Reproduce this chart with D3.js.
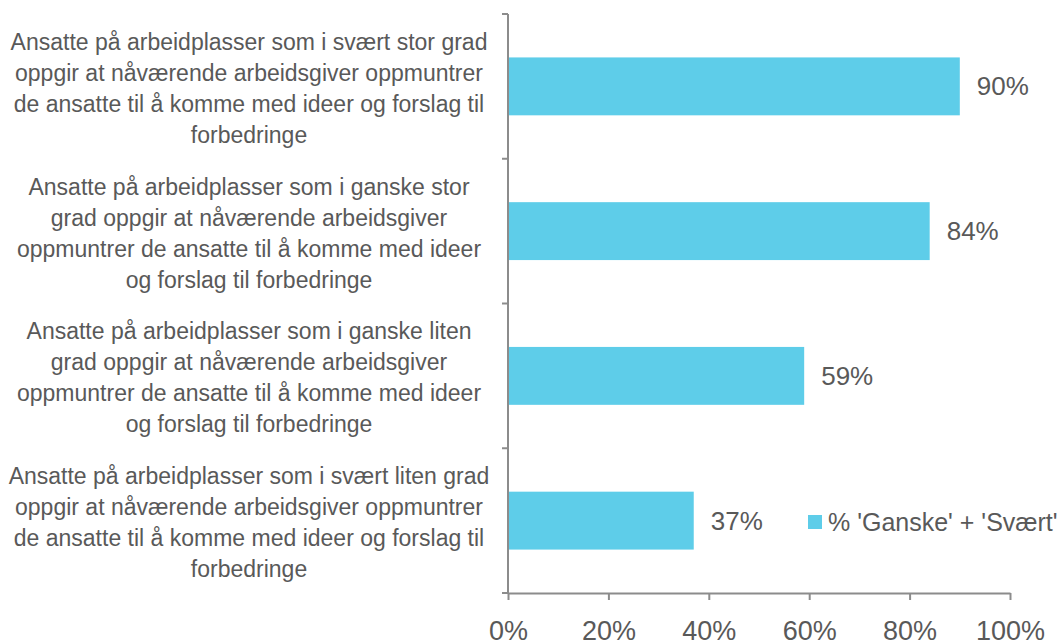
<!DOCTYPE html>
<html>
<head>
<meta charset="utf-8">
<script src="https://cdn.jsdelivr.net/npm/d3@7"></script>
<style>
  html, body { margin: 0; padding: 0; background: #fff; overflow: hidden; }
  svg { display: block; font-family: "Liberation Sans", Arial, sans-serif; }
</style>
</head>
<body>
<script>
// kategorier (linjer slik de brytes i originalen)
const categories = [
  ["Ansatte på arbeidplasser som i svært stor grad", "oppgir at nåværende arbeidsgiver oppmuntrer", "de ansatte til å komme med ideer og forslag til", "forbedringe"],
  ["Ansatte på arbeidplasser som i ganske stor", "grad oppgir at nåværende arbeidsgiver", "oppmuntrer de ansatte til å komme med ideer", "og forslag til forbedringe"],
  ["Ansatte på arbeidplasser som i ganske liten", "grad oppgir at nåværende arbeidsgiver", "oppmuntrer de ansatte til å komme med ideer", "og forslag til forbedringe"],
  ["Ansatte på arbeidplasser som i svært liten grad", "oppgir at nåværende arbeidsgiver oppmuntrer", "de ansatte til å komme med ideer og forslag til", "forbedringe"]
];
const values = [0.90, 0.84, 0.59, 0.37];
const xTicks = [0, 0.2, 0.4, 0.6, 0.8, 1.0];
const seriesName = "% 'Ganske' + 'Svært'";

const width = 1060, height = 640;
const margin = { top: 14, right: 50, bottom: 47, left: 508 };
const barColor = "#5ecde9";
const textColor = "#595959";
const axisColor = "#8c8c8c";

const svg = d3.select("body").append("svg")
  .attr("width", width)
  .attr("height", height);

const x = d3.scaleLinear()
  .domain([0, 1])
  .range([margin.left, 1010]);

const y = d3.scaleBand()
  .domain(d3.range(categories.length))
  .range([margin.top, height - margin.bottom])
  .paddingInner(0.6)
  .paddingOuter(0.3);

// stolper
svg.append("g")
  .selectAll("rect")
  .data(values)
  .join("rect")
  .attr("x", x(0))
  .attr("y", (d, i) => y(i))
  .attr("width", d => x(d) - x(0))
  .attr("height", y.bandwidth())
  .attr("fill", barColor);

// verdietiketter
svg.append("g")
  .selectAll("text")
  .data(values)
  .join("text")
  .attr("x", d => x(d) + 17)
  .attr("y", (d, i) => y(i) + y.bandwidth() / 2)
  .attr("dy", "0.35em")
  .attr("fill", textColor)
  .style("font-size", "26px")
  .text(d => d3.format(".0%")(d));

// y-akse (linje + ytre tick-merker på kategorigrensene)
const yTop = margin.top, yBottom = height - margin.bottom;
const step = (yBottom - yTop) / categories.length;
const yAxis = svg.append("g").attr("stroke", axisColor).attr("stroke-width", 2);
yAxis.append("line")
  .attr("x1", x(0)).attr("x2", x(0))
  .attr("y1", yTop).attr("y2", yBottom);
yAxis.selectAll("line.tick")
  .data(d3.range(categories.length + 1))
  .join("line")
  .attr("class", "tick")
  .attr("x1", x(0) - 6).attr("x2", x(0))
  .attr("y1", i => yTop + i * step).attr("y2", i => yTop + i * step);

// x-akse
const xAxis = svg.append("g")
  .attr("transform", `translate(0,${yBottom})`)
  .call(d3.axisBottom(x).tickValues(xTicks).tickFormat(d3.format(".0%")).tickSize(7).tickPadding(21).tickSizeOuter(0));
xAxis.select(".domain").attr("stroke", axisColor).attr("stroke-width", 2);
xAxis.selectAll(".tick line").attr("stroke", axisColor).attr("stroke-width", 2);
xAxis.selectAll(".tick text")
  .attr("fill", textColor)
  .style("font-size", "27px")
  .style("font-family", "'Liberation Sans', Arial, sans-serif");

// kategoritekster
const lineH = 31;
svg.append("g")
  .attr("text-anchor", "middle")
  .attr("fill", textColor)
  .style("font-size", "23px")
  .selectAll("text")
  .data(categories)
  .join("text")
  .attr("transform", (d, i) => `translate(249,${y(i) + y.bandwidth() / 2 + 2 - (d.length - 1) * lineH / 2})`)
  .selectAll("tspan")
  .data(d => d)
  .join("tspan")
  .attr("x", 0)
  .attr("y", (d, j) => j * lineH)
  .attr("dy", "0.35em")
  .text(d => d);

// forklaring
const legend = svg.append("g").attr("transform", "translate(808,515)");
legend.append("rect")
  .attr("width", 14).attr("height", 14)
  .attr("fill", barColor);
legend.append("text")
  .attr("x", 20).attr("y", 7)
  .attr("dy", "0.35em")
  .attr("fill", textColor)
  .style("font-size", "25px")
  .text(seriesName);
</script>
</body>
</html>
